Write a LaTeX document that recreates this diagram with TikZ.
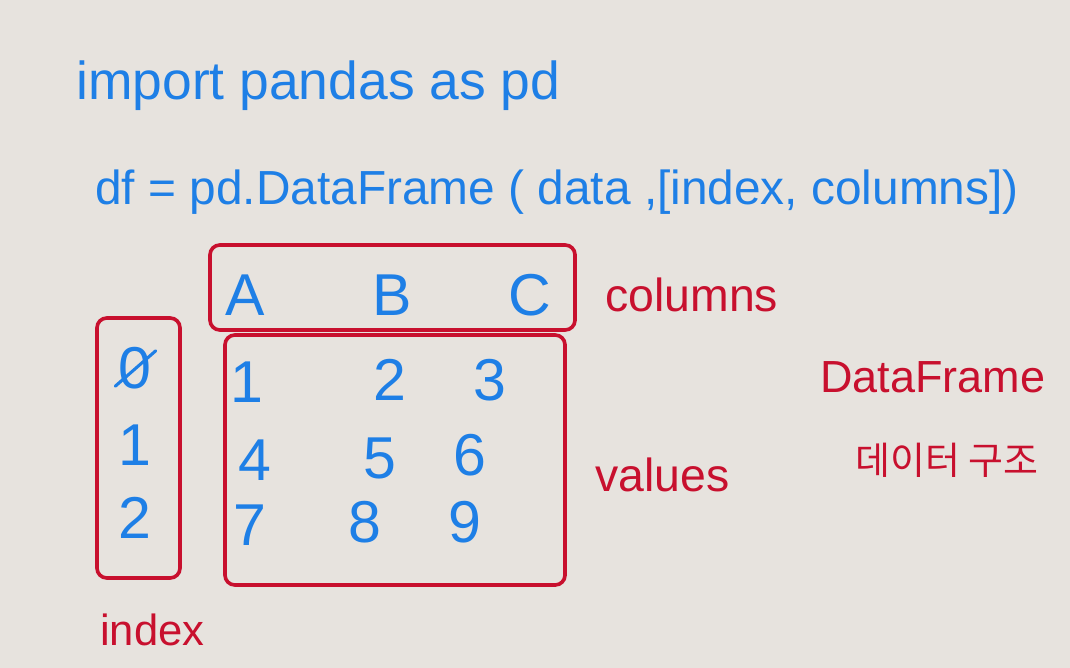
\documentclass[tikz,border=0pt]{standalone}
\usepackage{fontspec}
\setmainfont{Liberation Sans}
\newfontfamily\krfont{Noto Sans CJK KR}
\usetikzlibrary{positioning,fit}

\definecolor{penblue}{HTML}{1E7FE6}
\definecolor{penred}{HTML}{C8102E}
\definecolor{paper}{HTML}{E7E3DE}

\begin{document}
\begin{tikzpicture}[
  x=0.025cm, y=-0.025cm,
  code/.style={text=penblue, font=\fontsize{34}{38}\selectfont, anchor=base west, inner sep=0pt},
  cell/.style={text=penblue, font=\fontsize{42}{46}\selectfont, inner sep=0pt},
  tag/.style={text=penred, font=\fontsize{31}{35}\selectfont, inner sep=0pt},
  frame/.style={draw=penred, line width=2.6pt, rounded corners=7pt, inner sep=0pt}
]
\fill[paper] (0,0) rectangle (1070,668);
\useasboundingbox (0,0) rectangle (1070,668);

% the two code lines
\node[code, font=\fontsize{38}{42}\selectfont] (imp) at (76,100) {import pandas as pd};
\node[code] (ctor) at (95,205) {df = pd.DataFrame ( data ,[index, columns])};

% column labels
\node[cell] (colA) at (245,295) {A};
\node[cell] (colB) at (392,295) {B};
\node[cell] (colC) at (530,295) {C};

% index labels
\node[cell] (idx0) at (135,368) {0};
\node[cell] (idx1) at (135,445) {1};
\node[cell] (idx2) at (135,518) {2};
\draw[penblue, line width=2.2pt, line cap=round]
  ([shift={(-3,-3)}]idx0.south west) -- ([shift={(4,4)}]idx0.north east);

% values
\node[cell] (v11) at (247,382) {1};
\node[cell] (v12) at (390,380) {2};
\node[cell] (v13) at (490,380) {3};
\node[cell] (v21) at (255,460) {4};
\node[cell] (v22) at (380,458) {5};
\node[cell] (v23) at (470,455) {6};
\node[cell] (v31) at (250,525) {7};
\node[cell] (v32) at (365,522) {8};
\node[cell] (v33) at (465,522) {9};

% red frames
\node[frame, fit={(210,245) (575,330)}] (colbox) {};
\node[frame, fit={(97,318) (180,578)}] (idxbox) {};
\node[frame, fit={(225,335) (565,585)}] (valbox) {};

% red notes
\node[tag, anchor=west, font=\fontsize{33}{37}\selectfont] (colnote) at (605,295) {columns};
\node[tag, anchor=west, font=\fontsize{33}{37}\selectfont] (valnote) at (595,475) {values};
\node[tag, anchor=west] (idxnote) at (100,630) {index};
\node[tag, anchor=west, font=\fontsize{32}{36}\selectfont] (dfnote) at (820,377) {DataFrame};
\node[tag, anchor=west, font=\krfont\fontsize{27}{31}\selectfont] (krnote) at (855,460) {데이터 구조};
\end{tikzpicture}
\end{document}
